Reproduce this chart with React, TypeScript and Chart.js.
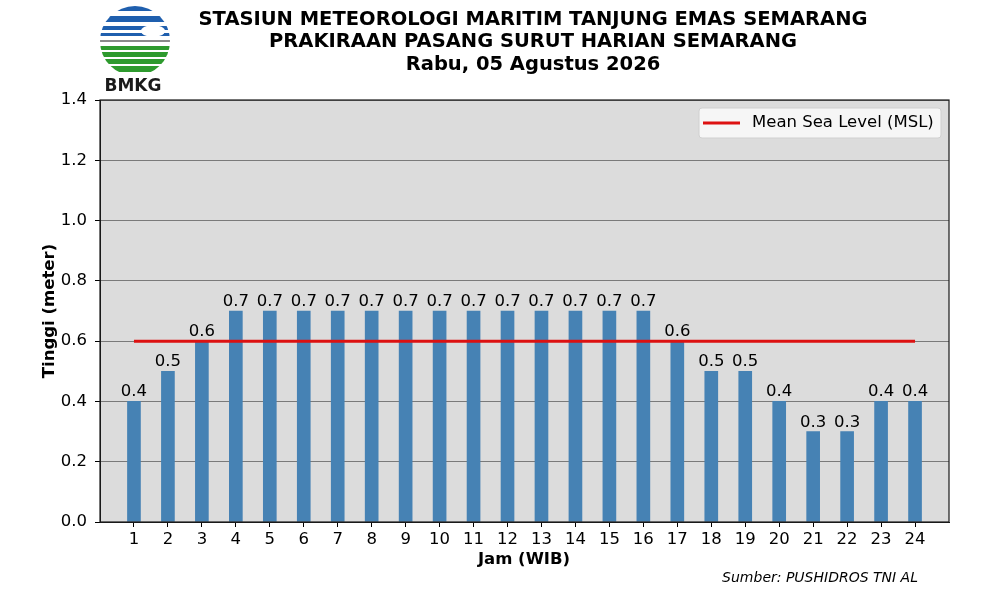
import React, { useEffect, useRef } from "react";
import { Chart, registerables } from "chart.js";

Chart.register(...registerables);

const hours = [1, 2, 3, 4, 5, 6, 7, 8, 9, 10, 11, 12, 13, 14, 15, 16, 17, 18, 19, 20, 21, 22, 23, 24];
const tideHeights = [0.4, 0.5, 0.6, 0.7, 0.7, 0.7, 0.7, 0.7, 0.7, 0.7, 0.7, 0.7, 0.7, 0.7, 0.7, 0.7, 0.6, 0.5, 0.5, 0.4, 0.3, 0.3, 0.4, 0.4];
const mslLevel = 0.6;
const titleLines = [
  "STASIUN METEOROLOGI MARITIM TANJUNG EMAS SEMARANG",
  "PRAKIRAAN PASANG SURUT HARIAN SEMARANG",
  "Rabu, 05 Agustus 2026",
];

const FONT = "'DejaVu Sans', sans-serif";

// draws the little BMKG logo (approximation)
function drawLogo(ctx: CanvasRenderingContext2D) {
  const cx = 135;
  const cy = 41;
  const r = 35;
  ctx.save();
  ctx.beginPath();
  ctx.arc(cx, cy, r, 0, Math.PI * 2);
  ctx.clip();
  ctx.fillStyle = "#ffffff";
  ctx.fillRect(cx - r, cy - r, 2 * r, 2 * r);
  // blue stripes top
  ctx.fillStyle = "#1f5fae";
  const blue = [
    [cy - 35, 5],
    [cy - 25, 6],
    [cy - 15, 4],
    [cy - 8, 3],
  ];
  blue.forEach(([y, h]) => ctx.fillRect(cx - r, y, 2 * r, h));
  // white cloud cut
  ctx.fillStyle = "#ffffff";
  ctx.beginPath();
  ctx.ellipse(cx + 18, cy - 10, 12, 6, 0, 0, Math.PI * 2);
  ctx.fill();
  // grey line
  ctx.fillStyle = "#8a8a8a";
  ctx.fillRect(cx - r, cy - 1, 2 * r, 2);
  // green stripes
  ctx.fillStyle = "#2e9a2e";
  const green = [
    [cy + 5, 4],
    [cy + 11, 5],
    [cy + 18, 5],
    [cy + 25, 6],
  ];
  green.forEach(([y, h]) => ctx.fillRect(cx - r, y, 2 * r, h));
  ctx.restore();
  ctx.save();
  ctx.fillStyle = "#1a1a1a";
  ctx.font = `bold 17px ${FONT}`;
  ctx.textAlign = "center";
  ctx.textBaseline = "middle";
  ctx.fillText("BMKG", 133, 87);
  ctx.restore();
}

const decorPlugin = {
  id: "decor",
  beforeDraw(chart: any) {
    const { ctx, chartArea } = chart;
    ctx.save();
    ctx.fillStyle = "#ffffff";
    ctx.fillRect(0, 0, chart.width, chart.height);
    ctx.fillStyle = "#dcdcdc";
    ctx.fillRect(chartArea.left, chartArea.top, chartArea.right - chartArea.left, chartArea.bottom - chartArea.top);
    ctx.restore();
  },
  afterDraw(chart: any) {
    const { ctx, chartArea } = chart;
    ctx.save();
    // frame
    ctx.strokeStyle = "#1a1a1a";
    ctx.lineWidth = 1.2;
    ctx.strokeRect(chartArea.left, chartArea.top, chartArea.right - chartArea.left, chartArea.bottom - chartArea.top);

    // value labels
    ctx.fillStyle = "#000";
    ctx.font = `16.5px ${FONT}`;
    ctx.textAlign = "center";
    ctx.textBaseline = "bottom";
    const meta = chart.getDatasetMeta(0);
    meta.data.forEach((bar: any, i: number) => {
      ctx.fillText(tideHeights[i].toFixed(1), bar.x, bar.y - 1);
    });

    // legend
    const lx = 699;
    const ly = 108;
    const lw = 242;
    const lh = 30;
    ctx.fillStyle = "rgba(248,248,248,0.9)";
    ctx.strokeStyle = "#d0d0d0";
    ctx.lineWidth = 1;
    ctx.beginPath();
    ctx.roundRect(lx, ly, lw, lh, 3);
    ctx.fill();
    ctx.stroke();
    ctx.strokeStyle = "#dd1111";
    ctx.lineWidth = 3;
    ctx.beginPath();
    ctx.moveTo(703, ly + lh / 2);
    ctx.lineTo(740, ly + lh / 2);
    ctx.stroke();
    ctx.fillStyle = "#000";
    ctx.textAlign = "left";
    ctx.textBaseline = "middle";
    ctx.font = `16.5px ${FONT}`;
    ctx.fillText("Mean Sea Level (MSL)", 752, ly + lh / 2);

    // titles
    ctx.font = `bold 19.5px ${FONT}`;
    ctx.textAlign = "center";
    ctx.fillText(titleLines[0], 533, 20);
    ctx.fillText(titleLines[1], 533, 42);
    ctx.fillText(titleLines[2], 533, 65);

    // axis titles
    ctx.font = `bold 16.5px ${FONT}`;
    ctx.fillText("Jam (WIB)", 524, 560);
    ctx.save();
    ctx.translate(50, 311);
    ctx.rotate(-Math.PI / 2);
    ctx.fillText("Tinggi (meter)", 0, 0);
    ctx.restore();

    // source
    ctx.font = `italic 14px ${FONT}`;
    ctx.textAlign = "right";
    ctx.fillText("Sumber: PUSHIDROS TNI AL", 918, 578);

    drawLogo(ctx);
    ctx.restore();
  },
};

const App = () => {
  const canvasRef = useRef<HTMLCanvasElement>(null);
  const chartRef = useRef<any>(null);

  useEffect(() => {
    document.body.style.margin = "0";
    if (!canvasRef.current) return;
    if (chartRef.current) chartRef.current.destroy();

    chartRef.current = new Chart(canvasRef.current, {
      type: "bar",
      data: {
        datasets: [
          {
            type: "bar",
            label: "Tinggi",
            data: hours.map((h, i) => ({ x: h, y: tideHeights[i] })),
            backgroundColor: "#4682b4",
            barThickness: 13,
            order: 2,
          },
          {
            type: "line",
            label: "Mean Sea Level (MSL)",
            data: [
              { x: hours[0], y: mslLevel },
              { x: hours[hours.length - 1], y: mslLevel },
            ],
            borderColor: "#dd1111",
            borderWidth: 3,
            pointRadius: 0,
            order: 1,
          },
        ] as any,
      },
      options: {
        animation: false,
        responsive: false,
        devicePixelRatio: 1,
        layout: { padding: { top: 100, right: 51, left: 0, bottom: 0 } },
        plugins: {
          legend: { display: false },
          tooltip: { enabled: false },
        },
        scales: {
          x: {
            type: "linear",
            min: 0,
            max: 25,
            offset: false,
            afterBuildTicks: (scale: any) => {
              scale.ticks = hours.map((h) => ({ value: h }));
            },
            afterFit: (scale: any) => {
              scale.height = 78;
            },
            ticks: {
              autoSkip: false,
              maxRotation: 0,
              padding: 3,
              color: "#000",
              font: { family: FONT, size: 16.5 },
            },
            grid: {
              offset: false,
              drawOnChartArea: false,
              drawTicks: true,
              tickLength: 5,
              tickColor: "#000",
            },
            border: { display: true, color: "#1a1a1a" },
          },
          y: {
            min: 0,
            max: 1.4,
            afterFit: (scale: any) => {
              scale.width = 100;
            },
            ticks: {
              stepSize: 0.2,
              padding: 8,
              color: "#000",
              font: { family: FONT, size: 16.5 },
              callback: (v: any) => Number(v).toFixed(1),
            },
            grid: {
              color: "#7a7a7a",
              lineWidth: 1,
              tickLength: 5,
              tickColor: "#000",
            },
            border: { display: true, color: "#1a1a1a" },
          },
        },
      },
      plugins: [decorPlugin],
    } as any);

    return () => {
      if (chartRef.current) {
        chartRef.current.destroy();
        chartRef.current = null;
      }
    };
  }, []);

  return (
    <div style={{ width: 1000, height: 600, position: "relative" }}>
      <canvas ref={canvasRef} width={1000} height={600} style={{ width: 1000, height: 600 }} />
    </div>
  );
};

export default App;
